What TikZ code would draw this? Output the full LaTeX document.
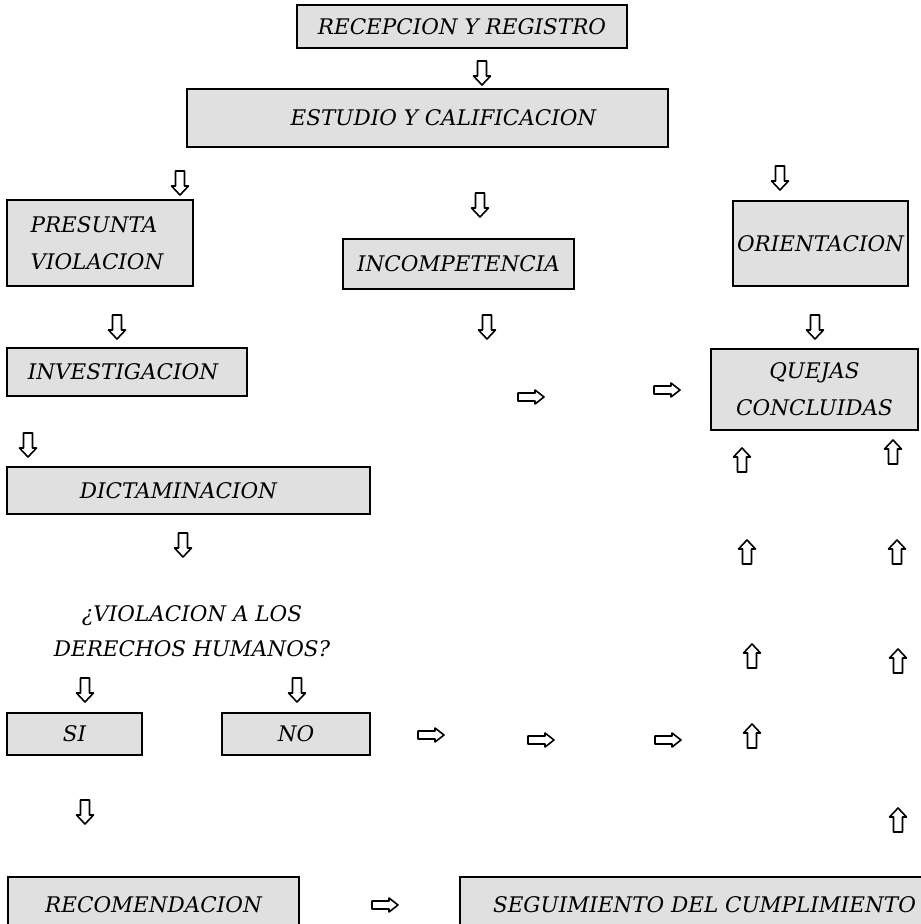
\documentclass[tikz,border=0pt]{standalone}
\usepackage{fontspec}
\setmainfont{DejaVu Serif}
\usepackage{tikz}
\begin{document}
\begin{tikzpicture}[x=1pt,y=-1pt,
  box/.style={draw=black, line width=1.6pt, fill=black!12, inner sep=0pt,
    font=\itshape\fontsize{21.5}{37}\selectfont, align=center},
  qtext/.style={font=\itshape\fontsize{21.5}{35}\selectfont, align=center, inner sep=0pt},
  arr/.style={draw=black, line width=1.6pt, line join=round, fill=white},
  darr/.pic={\path[arr] (-4.5,-12) -- (4.5,-12) -- (4.5,3) -- (8.5,3) -- (0,12) -- (-8.5,3) -- (-4.5,3) -- cycle;},
  uarr/.pic={\path[arr] (-4.5,12) -- (4.5,12) -- (4.5,-3) -- (8.5,-3) -- (0,-12) -- (-8.5,-3) -- (-4.5,-3) -- cycle;},
  rarr/.pic={\path[arr] (-13,-4) -- (4,-4) -- (4,-7) -- (13,0) -- (4,7) -- (4,4) -- (-13,4) -- cycle;}]
\useasboundingbox[fill=white] (0,0) rectangle (921,924);

% boxes
\node[box, minimum width=330pt, minimum height=43pt] (rec) at (462,26.5) {RECEPCION Y REGISTRO};
\node[box, minimum width=481pt, minimum height=58pt] (est) at (427.5,118) {\hspace*{32pt}ESTUDIO Y CALIFICACION};
\node[box, minimum width=186pt, minimum height=86pt, align=left] (pre) at (100,243) {PRESUNTA\\VIOLACION\hspace*{6pt}};
\node[box, minimum width=231pt, minimum height=50pt] (inc) at (458.5,264) {INCOMPETENCIA};
\node[box, minimum width=175pt, minimum height=85pt] (ori) at (820.5,243.5) {ORIENTACION};
\node[box, minimum width=240pt, minimum height=48pt] (inv) at (127,372) {INVESTIGACION\hspace*{8pt}};
\node[box, minimum width=207pt, minimum height=81pt] (que) at (814.5,389.5) {QUEJAS\\CONCLUIDAS};
\node[box, minimum width=363pt, minimum height=47pt] (dic) at (188.5,490.5) {DICTAMINACION\hspace*{20pt}};
\node[box, minimum width=135pt, minimum height=42pt] (si) at (74.5,734) {SI};
\node[box, minimum width=148pt, minimum height=42pt] (no) at (296,734) {NO};
\node[box, minimum width=291pt, minimum height=55pt] (recom) at (153.5,904.5) {RECOMENDACION};
\node[box, minimum width=465pt, minimum height=55pt] (seg) at (692.5,904.5) {\hspace*{24pt}SEGUIMIENTO DEL CUMPLIMIENTO};

% question
\node[qtext] (q) at (192,631) {¿VIOLACION A LOS\\DERECHOS HUMANOS?};

% down arrows
\foreach \x/\y in {482/73, 180/183, 480/205, 780/178, 117/327, 487/327, 815/327,
                   28/445, 183/545, 85/690, 297/690, 85/812}
  \pic at (\x,\y) {darr};
% right arrows
\foreach \x/\y in {531/397, 667/390, 431/735, 541/740, 668/740, 385/905}
  \pic at (\x,\y) {rarr};
% up arrows
\foreach \x/\y in {742/460, 893/452, 747/552, 897/552, 752/656, 898/661, 752/736, 898/820}
  \pic at (\x,\y) {uarr};
\end{tikzpicture}
\end{document}
